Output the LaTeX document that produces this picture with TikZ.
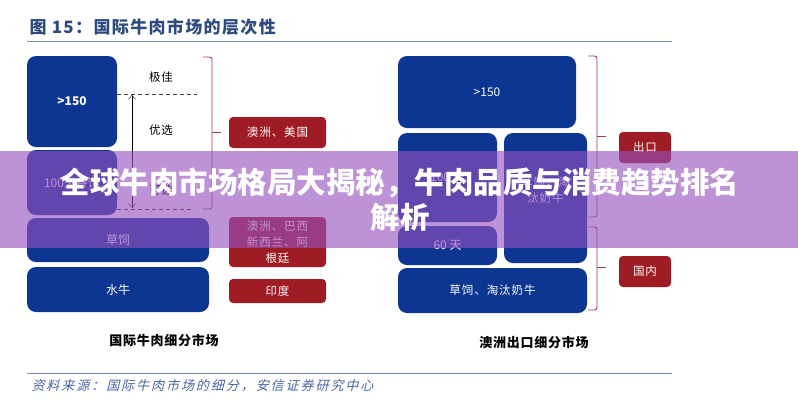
\documentclass[tikz,border=0pt]{standalone}
\usepackage{fontspec}
\setmainfont{Noto Sans CJK SC}
\usepackage{tikz}
\usetikzlibrary{
    positioning,                      % right=of, below=of
    arrows.meta                       % Straight Barb
}
\definecolor{box_blue}{RGB}{12,54,146}
\definecolor{box_red}{RGB}{160,28,36}
\definecolor{brk_red}{RGB}{168,60,70}
\definecolor{title_blue}{RGB}{46,75,128}
\definecolor{rule_blue}{RGB}{125,145,198}
\definecolor{src_blue}{RGB}{72,100,165}
\definecolor{banner_purple}{RGB}{150,80,190}

\begin{document}
\begin{tikzpicture}[
      x=1pt, y=-1pt,
      font=\fontsize{12}{14}\selectfont,
      >={Straight Barb[length=4pt,width=7pt]},
      blk/.style ={fill=box_blue, rounded corners=9pt, text=white, align=center, inner sep=0pt},
      mkt/.style ={fill=box_red, rounded corners=4pt, text=white, align=center, inner sep=0pt,
                   font=\fontsize{11.5}{16}\selectfont\addfontfeature{LetterSpace=8}},
      grade/.style={font=\fontsize{11.5}{14}\selectfont\addfontfeature{LetterSpace=8}},
      dline/.style={dashed, dash pattern=on 4pt off 3pt, thin, black!75},
      brk/.style ={draw=brk_red, line width=0.9pt, rounded corners=2.5pt},
      caption/.style ={font=\fontsize{13}{15}\selectfont\bfseries\addfontfeature{LetterSpace=6}},
      hl/.style  ={draw=rule_blue, line width=0.9pt}
    ]
    \useasboundingbox (0,0) rectangle (798,400);
    \fill[white] (0,0) rectangle (798,400);

    % --- Titulo y reglas ---
    \node[anchor=west, text=title_blue, font=\fontsize{17}{19}\selectfont\bfseries\addfontfeature{LetterSpace=8}]
        (title) at (26,27) {图 15：国际牛肉市场的层次性};
    \coordinate (rule_tl) at (27,41);
    \coordinate (rule_tr) at (672,41);
    \coordinate (rule_bl) at (27,373);
    \coordinate (rule_br) at (672,373);
    \draw[hl] (rule_tl) -- (rule_tr);
    \draw[hl] (rule_bl) -- (rule_br);
    \node[anchor=west, text=src_blue, font=\fontsize{13}{15}\selectfont\addfontfeature{FakeSlant=0.25,LetterSpace=15}]
        (source) at (28,386) {资料来源：国际牛肉市场的细分，安信证券研究中心};

    % --- Mercado internacional (izquierda) ---
    \node[blk, minimum width=90pt, minimum height=91pt, font=\fontsize{12}{14}\selectfont\bfseries] (l_150) at (72,101.5) {>150};
    \node[blk, minimum width=90pt, minimum height=65pt] (l_100) at (72,182.5) {100天谷饲};
    \node[blk, minimum width=182pt, minimum height=44pt] (l_grass) at (118,240) {草饲};
    \node[blk, minimum width=182pt, minimum height=45pt] (l_buff)  at (118,289.5) {水牛};

    \node[grade] (g_prime)  at (161,77)  {极佳};
    \node[grade] (g_choice) at (161,130) {优选};
    \node[grade] (g_select) at (161,190) {可选};

    \coordinate (dl1_a) at (117,94);  \coordinate (dl1_b) at (197,94);
    \coordinate (dl2_a) at (117,209); \coordinate (dl2_b) at (192,209);
    \draw[dline] (dl1_a) -- (dl1_b);
    \draw[dline] (dl2_a) -- (dl2_b);
    \coordinate (ar_top) at (132,95);
    \coordinate (ar_bot) at (132,208);
    \draw[<->, thin] (ar_top) -- (ar_bot);

    \draw[brk] (203,57) -- (212,57) -- (212,209) -- (203,209);
    \draw[brk] (212,132) -- (221,132);

    \node[mkt, minimum width=97pt, minimum height=31pt] (m_ausus) at (277.5,132.5) {澳洲、美国};
    \node[mkt, minimum width=97pt, minimum height=50pt] (m_south) at (277.5,242) {澳洲、巴西\\新西兰、阿\\根廷};
    \node[mkt, minimum width=97pt, minimum height=24pt] (m_india) at (277.5,291) {印度};

    \node[caption] (cap_left) at (164,340) {国际牛肉细分市场};

    % --- Mercado de exportacion australiano (derecha) ---
    \node[blk, minimum width=178pt, minimum height=72pt] (a_150) at (487,92) {>150};
    \node[blk, minimum width=99pt, minimum height=89pt] (a_100) at (447.5,177.5) {100 天};
    \node[blk, minimum width=99pt, minimum height=39pt] (a_60)  at (447.5,245.5) {60 天};
    \node[blk, minimum width=83pt, minimum height=130pt] (a_grass) at (545.5,198) {};
    \node[text=white, align=center, yshift=8pt, font=\fontsize{11.5}{16}\selectfont\addfontfeature{LetterSpace=8}]
        (a_grass_t) at (a_grass.center) {草饲，淘\\汰奶牛};
    \node[blk, minimum width=189pt, minimum height=45pt, font=\fontsize{11.5}{14}\selectfont\addfontfeature{LetterSpace=8}]
        (a_bot) at (492.5,290.5) {草饲、淘汰奶牛};

    \draw[brk] (588,56) -- (597,56) -- (597,217) -- (588,217);
    \draw[brk] (597,136) -- (606,136);
    \draw[brk] (588,227) -- (597,227) -- (597,310) -- (588,310);
    \draw[brk] (597,267) -- (606,267);

    \node[mkt, minimum width=52pt, minimum height=31pt] (m_export) at (645,147.5) {出口};
    \node[mkt, minimum width=52pt, minimum height=31pt] (m_domes)  at (645,271.5) {国内};

    \node[caption] (cap_right) at (534,342) {澳洲出口细分市场};

    % --- Banda superpuesta ---
    \fill[banner_purple, opacity=0.62] (0,151) rectangle (798,248);
    \node[text=white, font=\fontsize{29.5}{34}\selectfont\bfseries] (ban_1) at (400,183)
        {全球牛肉市场格局大揭秘，牛肉品质与消费趋势排名};
    \node[text=white, font=\fontsize{29.5}{34}\selectfont\bfseries] (ban_2) at (400,217) {解析};

  \end{tikzpicture}
\end{document}
